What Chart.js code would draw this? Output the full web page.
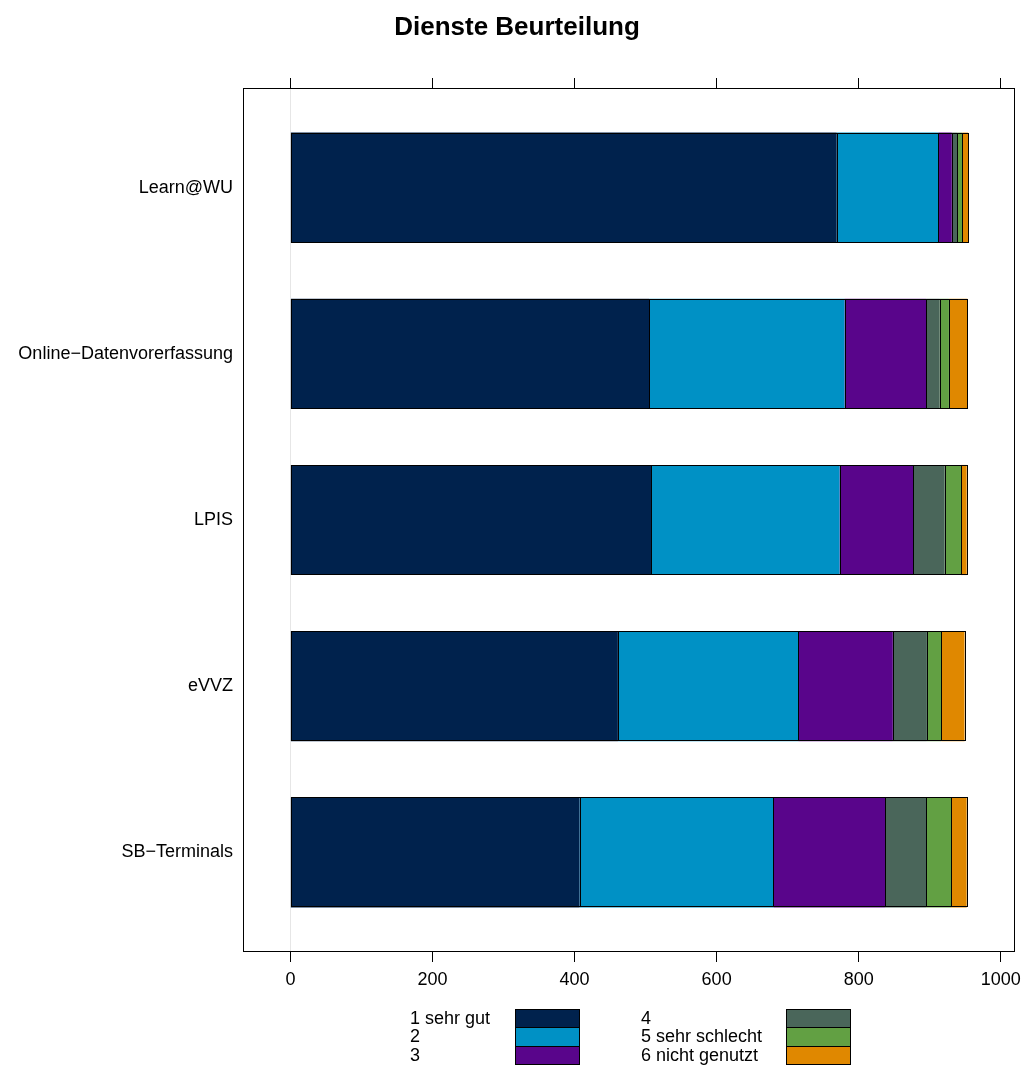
<!DOCTYPE html>
<html>
<head>
<meta charset="utf-8">
<title>Dienste Beurteilung</title>
<script src="https://cdn.jsdelivr.net/npm/chart.js@4.4.1/dist/chart.umd.min.js"></script>
<style>
  html, body { margin: 0; padding: 0; background: #fff; }
  #wrap { position: relative; width: 1024px; height: 1066px; }
  #legend { position: absolute; left: 0; top: 1009px; font: 18px "Liberation Sans", Arial, sans-serif; color: #000; }
  .lg-text { position: absolute; white-space: nowrap; line-height: 18.4px; top: 0; }
  .lg-box { position: absolute; width: 63px; height: 17.4px; border: 1px solid #000; box-sizing: content-box; }
</style>
</head>
<body>
<div id="wrap">
  <canvas id="chart" width="1024" height="1066"></canvas>
  <div id="legend"></div>
</div>
<script>
// ----------------------------------------------------
// DATA
// ----------------------------------------------------
const categories = ["Learn@WU", "Online\u2212Datenvorerfassung", "LPIS", "eVVZ", "SB\u2212Terminals"];
const seriesNames = ["1 sehr gut", "2", "3", "4", "5 sehr schlecht", "6 nicht genutzt"];

const sehrGut      = [769, 505, 508, 461, 407];
const zwei         = [143, 275, 265, 254, 273];
const drei         = [19, 115, 104, 133, 157];
const vier         = [8, 19, 44, 48, 58];
const sehrSchlecht = [7, 13, 23, 20, 35];
const nichtGenutzt = [8, 26, 8, 33, 22];

const xTicks = [0, 200, 400, 600, 800, 1000];

const seriesColors = ["#00224D", "#0091C5", "#59058B", "#4A665A", "#62A043", "#E08800"];

// ----------------------------------------------------
// CHART
// ----------------------------------------------------
const FONT = "'Liberation Sans', Arial, Helvetica, sans-serif";
const allSeries = [sehrGut, zwei, drei, vier, sehrSchlecht, nichtGenutzt];

const datasets = allSeries.map((vals, s) => ({
    label: seriesNames[s],
    data: categories.map((c, i) => ({ x: vals[i], y: i + 1 })),
    backgroundColor: seriesColors[s],
    borderWidth: 0,
    categoryPercentage: 0.663,
    barPercentage: 1
}));

// crisp black outline on every bar segment (geometry taken from the bar elements)
const barOutlines = {
    id: "barOutlines",
    afterDatasetsDraw(chart) {
        const { ctx } = chart;
        ctx.save();
        ctx.strokeStyle = "#000";
        ctx.lineWidth = 1;
        chart.data.datasets.forEach((ds, d) => {
            chart.getDatasetMeta(d).data.forEach(bar => {
                const p = bar.getProps(["x", "y", "base", "height"], true);
                const x0 = Math.round(Math.min(p.x, p.base)) + 0.5;
                const x1 = Math.round(Math.max(p.x, p.base)) + 0.5;
                const y0 = Math.round(p.y - p.height / 2) + 0.5;
                const y1 = Math.round(p.y + p.height / 2) - 0.5;
                ctx.strokeRect(x0, y0, x1 - x0, y1 - y0);
            });
        });
        ctx.restore();
    }
};

// frame round the plot area
const plotBox = {
    id: "plotBox",
    afterDraw(chart) {
        const { ctx, chartArea: a } = chart;
        ctx.save();
        ctx.strokeStyle = "#000";
        ctx.lineWidth = 1;
        ctx.strokeRect(a.left + 0.5, a.top + 0.5, a.right - a.left - 1, a.bottom - a.top - 1);
        ctx.restore();
    }
};

const setXTicks = scale => { scale.ticks = xTicks.map(v => ({ value: v })); };
const noSidePad = s => { s.paddingLeft = 0; s.paddingRight = 0; };

new Chart(document.getElementById("chart"), {
    type: "bar",
    data: { datasets },
    options: {
        responsive: false,
        animation: false,
        indexAxis: "y",
        layout: { padding: { left: 19, right: 9, top: 0, bottom: 0 } },
        plugins: {
            legend: { display: false },
            tooltip: { enabled: false },
            title: {
                display: true,
                text: "Dienste Beurteilung",
                color: "#000",
                font: { family: FONT, size: 26, weight: "bold", lineHeight: 1.2 },
                padding: { top: 12, bottom: 34.8 }
            }
        },
        scales: {
            x: {
                type: "linear",
                position: "bottom",
                stacked: true,
                min: -66.7,
                max: 1020,
                afterBuildTicks: setXTicks,
                afterFit: s => { s.height = 114; noSidePad(s); },
                border: { display: false },
                grid: {
                    color: c => (c.tick && c.tick.value === 0) ? "#e6e6e6" : "rgba(0,0,0,0)",
                    tickColor: "#000",
                    tickLength: 10,
                    lineWidth: 1
                },
                ticks: {
                    color: "#000",
                    font: { family: FONT, size: 18 },
                    padding: 7,
                    maxRotation: 0,
                    callback: v => String(v)
                }
            },
            x2: {
                type: "linear",
                position: "top",
                min: -66.7,
                max: 1020,
                afterBuildTicks: setXTicks,
                afterFit: s => { s.height = 10; noSidePad(s); },
                border: { display: false },
                grid: { drawOnChartArea: false, tickColor: "#000", tickLength: 10 },
                ticks: { display: false }
            },
            y: {
                type: "linear",
                stacked: true,
                reverse: true,
                offset: false,
                min: 0.4,
                max: 5.6,
                afterBuildTicks: s => { s.ticks = categories.map((c, i) => ({ value: i + 1 })); },
                afterFit: s => { s.width = 224; },
                border: { display: false },
                grid: { display: false, drawTicks: false },
                ticks: {
                    color: "#000",
                    font: { family: FONT, size: 18 },
                    padding: 10,
                    callback: v => categories[v - 1]
                }
            }
        }
    },
    plugins: [barOutlines, plotBox]
});

// ----------------------------------------------------
// LEGEND (two columns, text left of colour box)
// ----------------------------------------------------
const legendCols = [
    { textLeft: 410, boxLeft: 515, items: [0, 1, 2] },
    { textLeft: 641, boxLeft: 786, items: [3, 4, 5] }
];
const legendEl = document.getElementById("legend");
legendCols.forEach(col => {
    const txt = document.createElement("div");
    txt.className = "lg-text";
    txt.style.left = col.textLeft + "px";
    txt.innerHTML = col.items.map(k => seriesNames[k]).join("<br>");
    legendEl.appendChild(txt);
    col.items.forEach((k, r) => {
        const b = document.createElement("div");
        b.className = "lg-box";
        b.style.left = col.boxLeft + "px";
        b.style.top = (r * 18.4) + "px";
        b.style.background = seriesColors[k];
        legendEl.appendChild(b);
    });
});
</script>
</body>
</html>
